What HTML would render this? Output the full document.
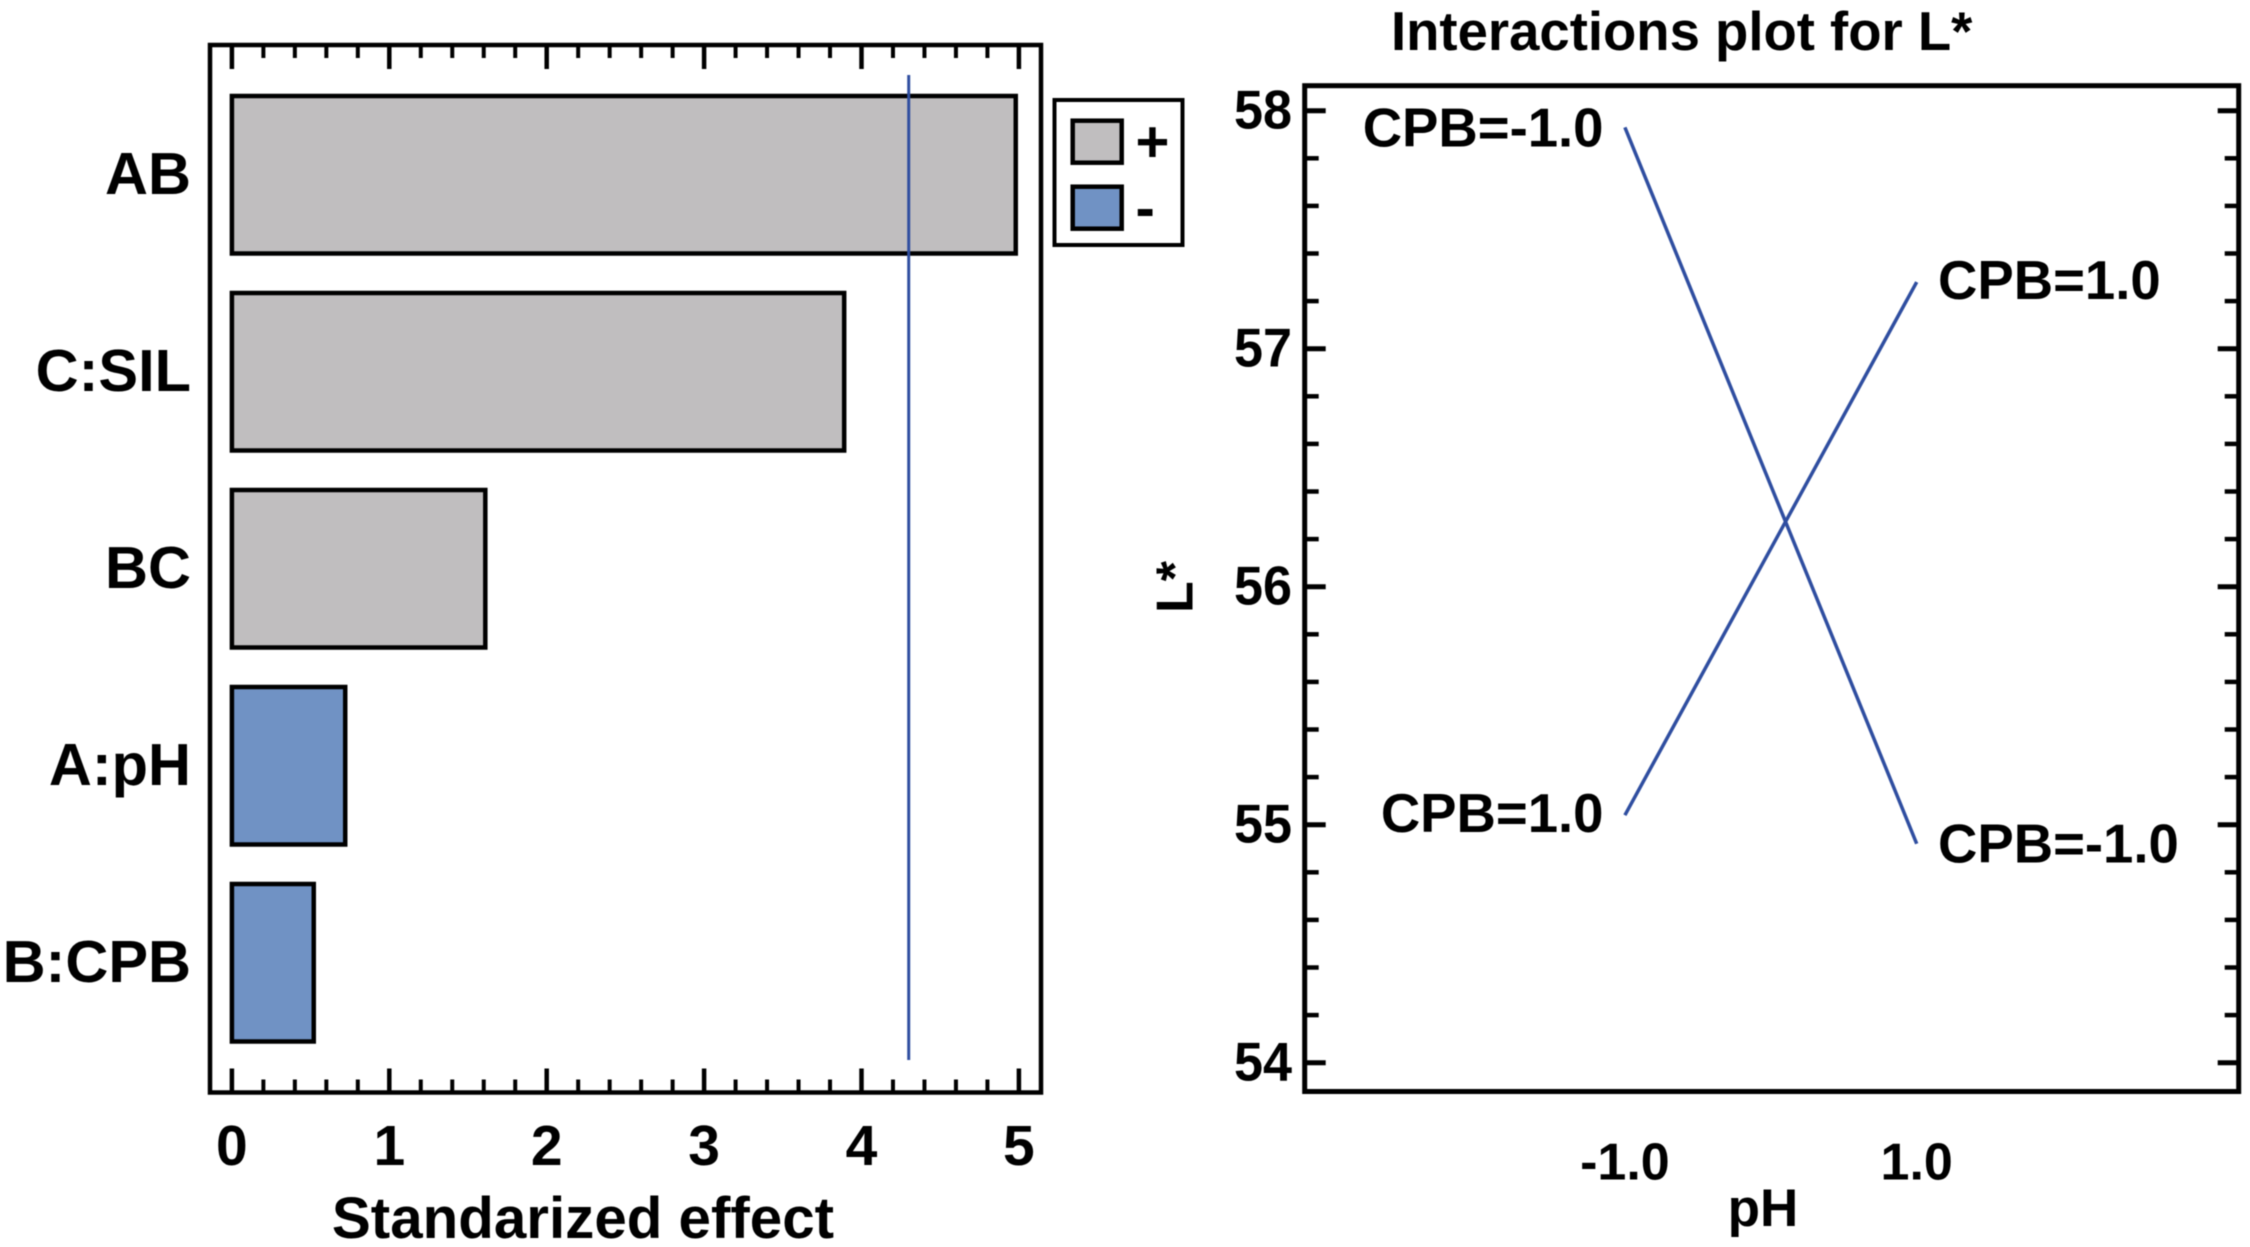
<!DOCTYPE html>
<html lang="en">
<head>
<meta charset="utf-8">
<title>Standardized effects and interactions plot for L*</title>
<style>
html,body{margin:0;padding:0;background:#fff;width:2250px;height:1247px;overflow:hidden}
svg{display:block;filter:blur(0.6px)}
text{font-family:"Liberation Sans",Arial,sans-serif;font-weight:700;fill:#000}
</style>
</head>
<body>
<svg id="figure" xmlns="http://www.w3.org/2000/svg" width="2250" height="1247" viewBox="0 0 2250 1247">
  <rect width="2250" height="1247" fill="#fff"></rect>
  <g id="pareto"></g>
  <g id="interaction"></g>
</svg>
<script>
/* Pareto chart data */
const effectCategories = ["AB", "C:SIL", "BC", "A:pH", "B:CPB"];
const effectValues = [4.98, 3.89, 1.61, 0.72, 0.52];
const effectSigns = ["+", "+", "+", "-", "-"];
const effectTicks = [0, 1, 2, 3, 4, 5];
const effectThreshold = [4.3];
const effectAxisTitle = ["Standarized effect"];
const legendLabels = ["+", "-"];

/* Interaction chart data */
const phLevels = [-1, 1];
const phTickLabels = ["-1.0", "1.0"];
const cpbLowValues = [57.93, 54.92];
const cpbHighValues = [55.04, 57.28];
const cpbLowLabels = ["CPB=-1.0", "CPB=-1.0"];
const cpbHighLabels = ["CPB=1.0", "CPB=1.0"];
const lightnessTicks = [54, 55, 56, 57, 58];

const NS = "http://www.w3.org/2000/svg";
const signFill = {"+": "#c0bebf", "-": "#7092c4"};
const lineBlue = "#2f4ea0";

function make(parent, tag, attrs, content) {
  const el = document.createElementNS(NS, tag);
  for (const key in attrs) el.setAttribute(key, attrs[key]);
  if (content !== undefined) el.textContent = content;
  parent.appendChild(el);
  return el;
}

/* ---------- Pareto chart ---------- */
const pareto = document.getElementById("pareto");
const paretoX = v => 231.9 + v * 157.4;
const paretoBarTop = i => 96 + i * 197;
const paretoBarHeight = 157.5;
const pFrameLeft = 210, pFrameRight = 1041, pFrameTop = 45, pFrameBottom = 1092.5;

const pFrame = make(pareto, "rect", {x: pFrameLeft, y: pFrameTop, width: pFrameRight - pFrameLeft, height: pFrameBottom - pFrameTop, fill: "none", stroke: "#000", "stroke-width": 4.5});



for (let t = 0; t < effectTicks.length; t++) {
  const major = effectTicks[t];
  const steps = t < effectTicks.length - 1 ? 5 : 1;
  for (let s = 0; s < steps; s++) {
    const v = major + s * 0.2;
    const len = s === 0 ? 24 : 13;
    const w = s === 0 ? 4.5 : 4;
    const top = make(pareto, "line", {x1: paretoX(v), x2: paretoX(v), y1: pFrameTop, y2: pFrameTop + len, stroke: "#000", "stroke-width": w});
    
    
    const bottom = make(pareto, "line", {x1: paretoX(v), x2: paretoX(v), y1: pFrameBottom, y2: pFrameBottom - len, stroke: "#000", "stroke-width": w});
    
    
  }
  const lab = make(pareto, "text", {x: paretoX(major), y: 1165, "text-anchor": "middle", "font-size": 57}, String(major));
  
  
}

effectCategories.forEach((cat, i) => {
  const top = paretoBarTop(i);
  const bar = make(pareto, "rect", {x: paretoX(0), y: top, width: paretoX(effectValues[i]) - paretoX(0), height: paretoBarHeight, fill: signFill[effectSigns[i]], stroke: "#000", "stroke-width": 4.5});
  
  
  const lab = make(pareto, "text", {x: 191, y: top + paretoBarHeight / 2 + 19, "text-anchor": "end", "font-size": 59.5}, cat);
  
  
});

const thresholdLine = make(pareto, "line", {x1: paretoX(effectThreshold[0]), x2: paretoX(effectThreshold[0]), y1: 75, y2: 1060, stroke: lineBlue, "stroke-width": 3});



const pTitle = make(pareto, "text", {x: 583, y: 1238, "text-anchor": "middle", "font-size": 58.3}, effectAxisTitle[0]);



const legendBox = make(pareto, "rect", {x: 1054.5, y: 100, width: 128, height: 145, fill: "#fff", stroke: "#000", "stroke-width": 4});



legendLabels.forEach((sign, i) => {
  const top = 120.7 + i * 66;
  const swatch = make(pareto, "rect", {x: 1072.7, y: top, width: 49, height: 42, fill: signFill[sign], stroke: "#000", "stroke-width": 4.5});
  
  
  const lab = make(pareto, "text", {x: 1135.5, y: top + 41, "font-size": 58}, sign);
  
  
});

/* ---------- Interaction chart ---------- */
const inter = document.getElementById("interaction");
const interX = v => 1770.8 + v * 145.9;
const interY = v => 110.7 + (58 - v) * 238;
const iFrameLeft = 1304.7, iFrameRight = 2238.7, iFrameTop = 85.7, iFrameBottom = 1091.5;

const iFrame = make(inter, "rect", {x: iFrameLeft, y: iFrameTop, width: iFrameRight - iFrameLeft, height: iFrameBottom - iFrameTop, fill: "none", stroke: "#000", "stroke-width": 5});



lightnessTicks.forEach((major, t) => {
  const steps = t < lightnessTicks.length - 1 ? 5 : 1;
  for (let s = 0; s < steps; s++) {
    const v = major + s * 0.2;
    const len = s === 0 ? 21 : 14;
    const w = s === 0 ? 5 : 4.5;
    const left = make(inter, "line", {x1: iFrameLeft, x2: iFrameLeft + len, y1: interY(v), y2: interY(v), stroke: "#000", "stroke-width": w});
    
    
    const right = make(inter, "line", {x1: iFrameRight, x2: iFrameRight - len, y1: interY(v), y2: interY(v), stroke: "#000", "stroke-width": w});
    
    
  }
  const lab = make(inter, "text", {x: 1292, y: interY(major) + 18, "text-anchor": "end", "font-size": 54.5, textLength: 58, lengthAdjust: "spacingAndGlyphs"}, String(major));
  
  
});

function linePoints(values) {
  return phLevels.map((p, i) => interX(p) + "," + interY(values[i])).join(" ");
}
const lowLine = make(inter, "polyline", {points: linePoints(cpbLowValues), fill: "none", stroke: lineBlue, "stroke-width": 3.5});


const highLine = make(inter, "polyline", {points: linePoints(cpbHighValues), fill: "none", stroke: lineBlue, "stroke-width": 3.5});



const lowStart = make(inter, "text", {x: 1603.5, y: interY(cpbLowValues[0]) + 19, "text-anchor": "end", "font-size": 54.5}, cpbLowLabels[0]);


const lowEnd = make(inter, "text", {x: 1938, y: interY(cpbLowValues[1]) + 19, "font-size": 54.5}, cpbLowLabels[1]);


const highStart = make(inter, "text", {x: 1603.5, y: interY(cpbHighValues[0]) + 17, "text-anchor": "end", "font-size": 54.5}, cpbHighLabels[0]);


const highEnd = make(inter, "text", {x: 1938, y: interY(cpbHighValues[1]) + 17, "font-size": 54.5}, cpbHighLabels[1]);



phLevels.forEach((p, i) => {
  const lab = make(inter, "text", {x: interX(p), y: 1179.5, "text-anchor": "middle", "font-size": 52}, phTickLabels[i]);
  
  
});

const iXTitle = make(inter, "text", {x: 1763, y: 1226, "text-anchor": "middle", "font-size": 53}, "pH");



const iYTitle = make(inter, "text", {x: 0, y: 0, "text-anchor": "middle", "font-size": 52, transform: "translate(1192.5 587) rotate(-90)"}, "L*");



const iTitle = make(inter, "text", {x: 1391, y: 50, "font-size": 54.5}, "Interactions plot for L*");


</script>
</body>
</html>
